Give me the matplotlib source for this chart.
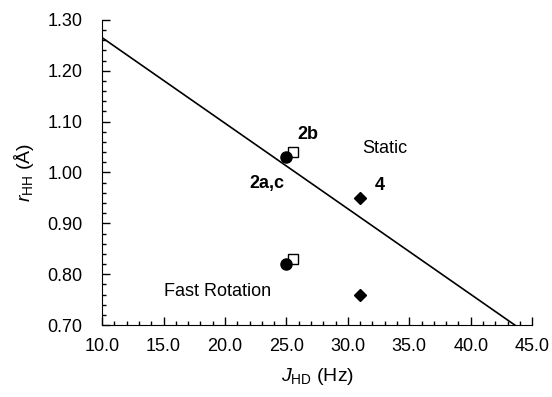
import matplotlib

matplotlib.use("Agg")
import matplotlib.pyplot as plt
from matplotlib.ticker import MultipleLocator, FormatStrFormatter

plt.rcParams["font.family"] = ["Liberation Sans", "DejaVu Sans"]
plt.rcParams["mathtext.fontset"] = "custom"
plt.rcParams["mathtext.rm"] = "Liberation Sans"
plt.rcParams["mathtext.it"] = "Liberation Sans:italic"

# data
circle_j = [25.0, 25.0]
circle_r = [1.03, 0.82]
square_j = [25.5, 25.5]
square_r = [1.04, 0.83]
diamond_j = [31.0, 31.0]
diamond_r = [0.95, 0.76]
line_j = [10.0, 43.6]
line_r = [1.265, 0.70]

fig = plt.figure(figsize=(5.52, 3.97), dpi=100)
ax = fig.add_axes([0.185, 0.181, 0.779, 0.769])

ax.plot(line_j, line_r, color="black", lw=1.2, zorder=1)
ax.plot(square_j, square_r, "s", ms=7, mfc="white", mec="black", mew=1.0, zorder=2)
ax.plot(circle_j, circle_r, "o", ms=8, color="black", zorder=3)
ax.plot(diamond_j, diamond_r, "D", ms=6, color="black", zorder=3)

ax.text(25.9, 1.066, "2b", fontsize=13, fontweight="bold")
ax.text(22.0, 0.969, "2a,c", fontsize=13, fontweight="bold")
ax.text(32.2, 0.965, "4", fontsize=13, fontweight="bold")
ax.text(31.2, 1.038, "Static", fontsize=13)
ax.text(15.0, 0.757, "Fast Rotation", fontsize=13)

ax.set_xlim(10, 45)
ax.set_ylim(0.70, 1.30)
ax.xaxis.set_major_locator(MultipleLocator(5))
ax.xaxis.set_minor_locator(MultipleLocator(1))
ax.yaxis.set_major_locator(MultipleLocator(0.1))
ax.yaxis.set_minor_locator(MultipleLocator(0.02))
ax.xaxis.set_major_formatter(FormatStrFormatter("%.1f"))
ax.yaxis.set_major_formatter(FormatStrFormatter("%.2f"))

for side in ("top", "right"):
    ax.spines[side].set_visible(False)
ax.tick_params(which="both", direction="in", labelsize=13, width=1)
ax.tick_params(which="major", length=6)
ax.tick_params(which="minor", length=3)
ax.tick_params(axis="x", which="major", pad=9)
ax.tick_params(axis="y", which="major", pad=14)

ax.set_xlabel(r"$\mathit{J}_{\mathrm{HD}}$ (Hz)", fontsize=14, labelpad=8)
ax.set_ylabel(r"$\mathit{r}_{\mathrm{HH}}$ (Å)", fontsize=14, labelpad=8)

fig.savefig("out.png", dpi=100)
